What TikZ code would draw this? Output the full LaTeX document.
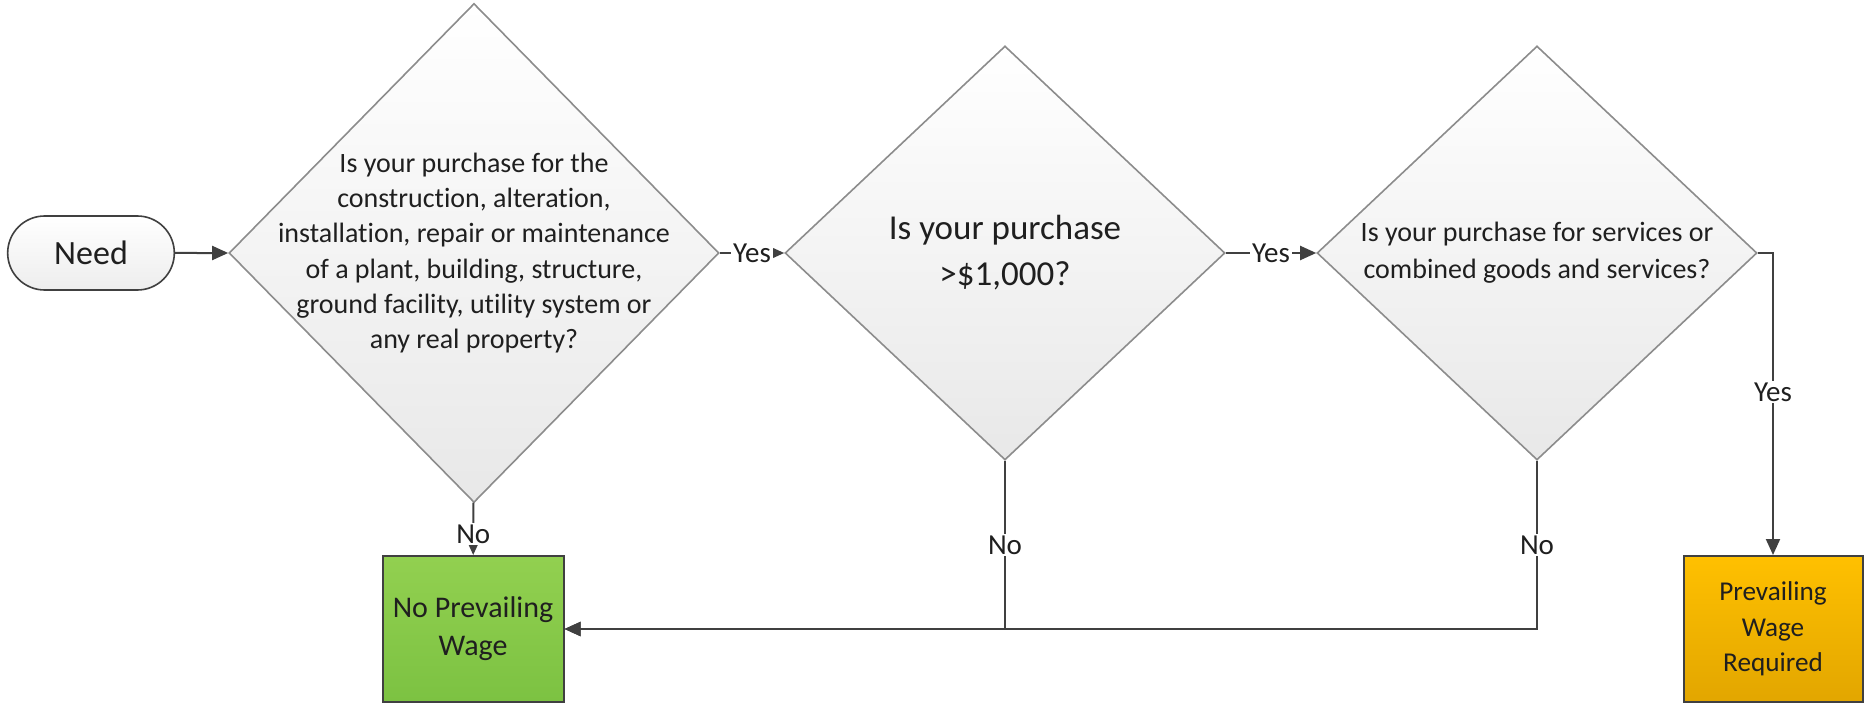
\documentclass[tikz,border=0pt]{standalone}
\usepackage{fontspec}
\setmainfont{Carlito}[Ligatures={NoCommon}]
\usepackage{tikz}
\usetikzlibrary{shapes.geometric,shapes.misc,arrows.meta}
\definecolor{linegray}{HTML}{404040}
\definecolor{edgegray}{HTML}{8C8C8C}
\definecolor{textgray}{HTML}{1F1F1F}
\definecolor{greentop}{HTML}{92D050}
\definecolor{greenbot}{HTML}{7CC242}
\definecolor{orangetop}{HTML}{FFC000}
\definecolor{orangebot}{HTML}{E2A600}
\tikzset{
    decision-box/.style = {draw=edgegray, line width=0.8pt, diamond, inner sep=0pt, top color=white, bottom color=black!9},
    start-box/.style = {draw=linegray, line width=0.8pt, rounded rectangle, minimum width=90pt, minimum height=37pt, top color=white, bottom color=black!7, font=\fontsize{17}{20}\selectfont},
    result-box/.style = {draw=linegray, line width=1pt, rectangle, minimum height=73pt, align=center},
    question-text/.style = {align=center, text=textgray},
    branch-label/.style = {fill=white, inner sep=1pt, font=\fontsize{14.5}{17}\selectfont},
    flow/.style = {draw=linegray, line width=1pt, -{Triangle[length=8pt, width=7pt]}},
}

\begin{document}
\begin{tikzpicture}[x=0.5pt, y=-0.5pt, text=textgray]
\useasboundingbox (0,0) rectangle (1864,706);

\node [start-box] (need) at (91,253) {Need};

\node [decision-box, minimum width=245pt, minimum height=249.5pt,
    label={[question-text, font=\fontsize{14}{17.6}\selectfont]center:{Is your purchase for the\\construction, alteration,\\installation, repair or maintenance\\of a plant, building, structure,\\ground facility, utility system or\\any real property?}}]
    (q-property) at (474,253) {};
\node [decision-box, minimum width=220pt, minimum height=207pt,
    label={[question-text, font=\fontsize{17.5}{23}\selectfont]center:{Is your purchase\\>\$1,000?}}]
    (q-amount) at (1005,253) {};
\node [decision-box, minimum width=220pt, minimum height=207pt,
    label={[question-text, font=\fontsize{14}{18.5}\selectfont]center:{Is your purchase for services or\\combined goods and services?}}]
    (q-services) at (1537,253) {};

\node [result-box, minimum width=90.5pt, top color=greentop, bottom color=greenbot, font=\fontsize{15}{19}\selectfont]
    (no-wage) at (473,629) {No Prevailing\\Wage};
\node [result-box, minimum width=89.5pt, top color=orangetop, bottom color=orangebot, font=\fontsize{13.6}{17.7}\selectfont]
    (wage) at (1773,629) {Prevailing\\Wage\\Required};

% yes branches
\draw [flow] (need) -- (q-property);
\draw [flow] (q-property) -- node[branch-label] {Yes} (q-amount);
\draw [flow] (q-amount) -- node[branch-label] {Yes} (q-services);
\draw [flow] (q-services.east) -| node[branch-label, pos=0.73] {Yes} (wage.north);

% no branches
\draw [flow] (q-property) -- node[branch-label, pos=0.6] {No} (no-wage);
\draw [flow] (q-amount.south) |- node[branch-label, pos=0.25] {No} (no-wage.east);
\draw [flow] (q-services.south) |- node[branch-label, pos=0.25] {No} (no-wage.east);
\end{tikzpicture}
\end{document}
